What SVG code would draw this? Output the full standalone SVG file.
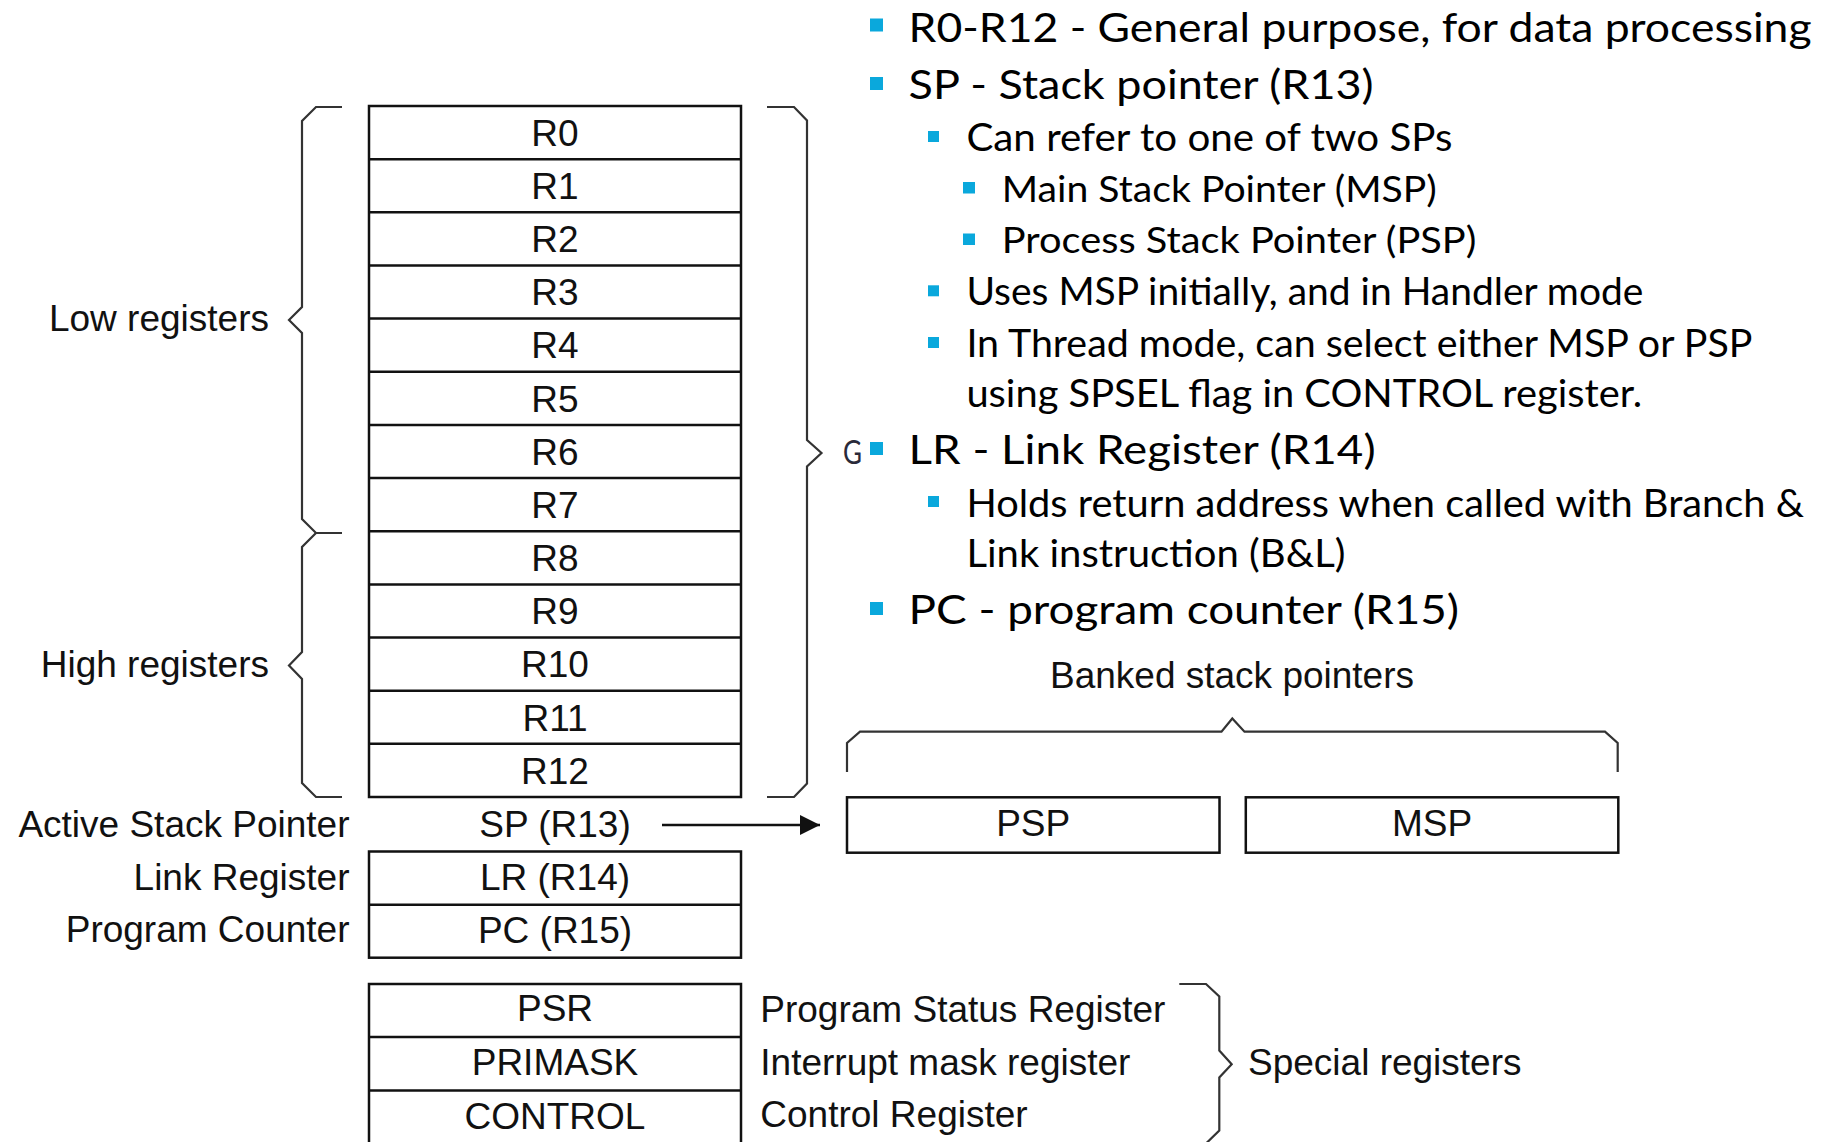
<svg xmlns="http://www.w3.org/2000/svg" width="1827" height="1142" viewBox="0 0 1827 1142">
  <style>
    .reg { fill: #ffffff; stroke: #111111; stroke-width: 2.5; }
    .div { stroke: #111111; stroke-width: 2.5; }
    .brace { fill: none; stroke: #333333; stroke-width: 2.2; stroke-linejoin: miter; }
    .lbl { font-family: "Liberation Sans", Arial, sans-serif; font-size: 37px; fill: #111111; }
    .mid { text-anchor: middle; }
    .end { text-anchor: end; }
    .b1 { font-family: Lato, "Open Sans", sans-serif; font-size: 41px; fill: #000000; }
    .b2 { font-family: Lato, "Open Sans", sans-serif; font-size: 38.5px; fill: #000000; }
    .b3 { font-family: Lato, "Open Sans", sans-serif; font-size: 37px; fill: #000000; }
    .sq { fill: #0aa8dc; }
  </style>
  <defs>
    <marker id="arrowHead" markerUnits="userSpaceOnUse" markerWidth="22" markerHeight="22" refX="20" refY="10" orient="auto">
      <polygon points="0,0 20,10 0,20" fill="#111111"/>
    </marker>
  </defs>

  <rect width="1827" height="1142" fill="#ffffff"/>

  <!-- General purpose register file R0-R12 -->
  <g id="gp-registers">
    <rect class="reg" x="369" y="106" width="372" height="691"/>
    <line class="div" x1="369" y1="159.2" x2="741" y2="159.2"/>
    <line class="div" x1="369" y1="212.3" x2="741" y2="212.3"/>
    <line class="div" x1="369" y1="265.5" x2="741" y2="265.5"/>
    <line class="div" x1="369" y1="318.6" x2="741" y2="318.6"/>
    <line class="div" x1="369" y1="371.8" x2="741" y2="371.8"/>
    <line class="div" x1="369" y1="424.9" x2="741" y2="424.9"/>
    <line class="div" x1="369" y1="478.1" x2="741" y2="478.1"/>
    <line class="div" x1="369" y1="531.2" x2="741" y2="531.2"/>
    <line class="div" x1="369" y1="584.4" x2="741" y2="584.4"/>
    <line class="div" x1="369" y1="637.5" x2="741" y2="637.5"/>
    <line class="div" x1="369" y1="690.7" x2="741" y2="690.7"/>
    <line class="div" x1="369" y1="743.8" x2="741" y2="743.8"/>
    <text class="lbl mid" x="555" y="145.8">R0</text>
    <text class="lbl mid" x="555" y="199">R1</text>
    <text class="lbl mid" x="555" y="252.1">R2</text>
    <text class="lbl mid" x="555" y="305.3">R3</text>
    <text class="lbl mid" x="555" y="358.4">R4</text>
    <text class="lbl mid" x="555" y="411.6">R5</text>
    <text class="lbl mid" x="555" y="464.7">R6</text>
    <text class="lbl mid" x="555" y="517.9">R7</text>
    <text class="lbl mid" x="555" y="571">R8</text>
    <text class="lbl mid" x="555" y="624.2">R9</text>
    <text class="lbl mid" x="555" y="677.3">R10</text>
    <text class="lbl mid" x="555" y="730.5">R11</text>
    <text class="lbl mid" x="555" y="783.6">R12</text>
  </g>

  <!-- Group braces and their captions -->
  <g id="low-registers">
    <path class="brace" d="M342,107 H316 L302,121 V307 L289,320 L302,333 V519 L316,533 H342"/>
    <text class="lbl end" x="269" y="331">Low registers</text>
  </g>
  <g id="high-registers">
    <path class="brace" d="M316,533 L302,547 V652 L289,665.5 L302,679 V783 L316,797 H342"/>
    <text class="lbl end" x="269" y="677">High registers</text>
  </g>
  <g id="all-registers-brace">
    <path class="brace" d="M767,107 H794 L807,120.5 V440 L821.5,453 L807,466.5 V783.5 L794,797 H767"/>
  </g>

  <!-- SP / LR / PC -->
  <g id="sp">
    <text class="lbl end" x="349.5" y="836.7">Active Stack Pointer</text>
    <text class="lbl mid" x="555" y="836.7">SP (R13)</text>
  </g>
  <g id="lr-pc">
    <rect class="reg" x="369" y="851.5" width="372" height="106.2"/>
    <line class="div" x1="369" y1="904.7" x2="741" y2="904.7"/>
    <text class="lbl end" x="349.5" y="890">Link Register</text>
    <text class="lbl mid" x="555" y="890">LR (R14)</text>
    <text class="lbl end" x="349.5" y="941.7">Program Counter</text>
    <text class="lbl mid" x="555" y="942.5">PC (R15)</text>
  </g>

  <!-- Banked stack pointers -->
  <g id="banked">
    <text class="lbl mid" x="1232" y="688.3">Banked stack pointers</text>
    <path class="brace" d="M847,772 V743 L860,731.7 H1221.5 L1232.3,718.5 L1244.5,731.7 H1605 L1617.7,743 V772"/>
  </g>
  <g id="psp">
    <rect class="reg" x="847" y="797.3" width="372.5" height="55.4"/>
    <text class="lbl mid" x="1033.2" y="836">PSP</text>
  </g>
  <g id="msp">
    <rect class="reg" x="1245.8" y="797.3" width="372.5" height="55.4"/>
    <text class="lbl mid" x="1432" y="836">MSP</text>
  </g>

  <!-- Special registers -->
  <g id="special-registers">
    <rect class="reg" x="369" y="984" width="372" height="160"/>
    <line class="div" x1="369" y1="1037" x2="741" y2="1037"/>
    <line class="div" x1="369" y1="1090.5" x2="741" y2="1090.5"/>
    <text class="lbl mid" x="555" y="1021">PSR</text>
    <text class="lbl mid" x="555" y="1075">PRIMASK</text>
    <text class="lbl mid" x="555" y="1128.5">CONTROL</text>
    <text class="lbl" x="760.3" y="1021.7">Program Status Register</text>
    <text class="lbl" x="760.3" y="1074.5">Interrupt mask register</text>
    <text class="lbl" x="760.3" y="1126.7">Control Register</text>
    <path class="brace" d="M1179.3,984 H1206 L1219.3,996.5 V1050.5 L1231.7,1064.3 L1219.3,1077.5 V1130.5 L1206,1143.5"/>
    <text class="lbl" x="1248" y="1075">Special registers</text>
  </g>

  <!-- Connectors -->
  <g id="connectors">
    <line x1="662" y1="825" x2="820" y2="825" stroke="#111111" stroke-width="2.5" marker-end="url(#arrowHead)"/>
  </g>

  <!-- Bulleted notes -->
  <g id="notes">
    <rect class="sq" x="870" y="18.5" width="13" height="13"/>
    <text class="b1" x="908.6" y="41.7" textLength="903" lengthAdjust="spacingAndGlyphs">R0-R12 - General purpose, for data processing</text>

    <rect class="sq" x="870" y="77" width="13" height="13"/>
    <text class="b1" x="908.6" y="99.3" textLength="465" lengthAdjust="spacingAndGlyphs">SP - Stack pointer (R13)</text>

    <rect class="sq" x="928" y="131" width="11" height="11"/>
    <text class="b2" x="966.4" y="150.7" textLength="486" lengthAdjust="spacingAndGlyphs">Can refer to one of two SPs</text>

    <rect class="sq" x="963" y="182" width="12" height="11.5"/>
    <text class="b3" x="1001.8" y="201.7" textLength="435" lengthAdjust="spacingAndGlyphs">Main Stack Pointer (MSP)</text>

    <rect class="sq" x="963" y="233.5" width="12" height="11.5"/>
    <text class="b3" x="1001.8" y="253.3" textLength="474.6" lengthAdjust="spacingAndGlyphs">Process Stack Pointer (PSP)</text>

    <rect class="sq" x="928" y="285.3" width="11" height="11"/>
    <text class="b2" x="966.4" y="305" textLength="677" lengthAdjust="spacingAndGlyphs">Uses MSP initially, and in Handler mode</text>

    <rect class="sq" x="928" y="337" width="11" height="11"/>
    <text class="b2" x="966.4" y="356.7" textLength="786" lengthAdjust="spacingAndGlyphs">In Thread mode, can select either MSP or PSP</text>
    <text class="b2" x="966.4" y="407.3" textLength="675.7" lengthAdjust="spacingAndGlyphs">using SPSEL flag in CONTROL register.</text>

    <text x="843" y="463.5" font-family="Lato, sans-serif" font-size="33" fill="#2a2a3a" textLength="19" lengthAdjust="spacingAndGlyphs">G</text>
    <rect class="sq" x="870" y="442" width="13" height="13"/>
    <text class="b1" x="908.6" y="464" textLength="467" lengthAdjust="spacingAndGlyphs">LR - Link Register (R14)</text>

    <rect class="sq" x="928" y="496" width="11" height="11"/>
    <text class="b2" x="966.4" y="516.7" textLength="837.6" lengthAdjust="spacingAndGlyphs">Holds return address when called with Branch &amp;</text>
    <text class="b2" x="966.4" y="566.7" textLength="379" lengthAdjust="spacingAndGlyphs">Link instruction (B&amp;L)</text>

    <rect class="sq" x="870" y="602" width="13" height="13"/>
    <text class="b1" x="908.6" y="624" textLength="550.5" lengthAdjust="spacingAndGlyphs">PC - program counter (R15)</text>
  </g>
</svg>
